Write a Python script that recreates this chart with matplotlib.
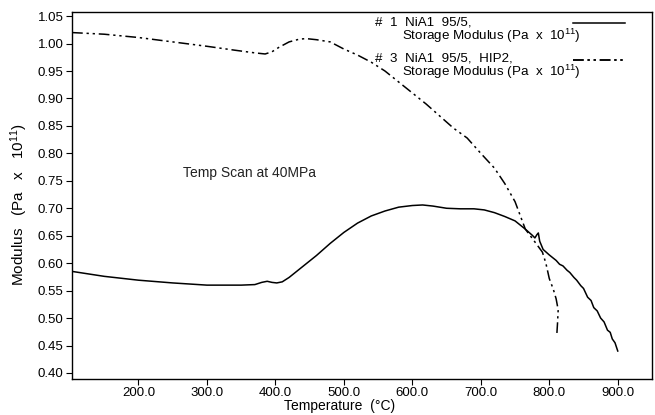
import matplotlib
matplotlib.use('Agg')
import matplotlib.pyplot as plt

# Helvetica-like text, superscripts in the same font
plt.rcParams['font.family'] = ['Liberation Sans', 'DejaVu Sans']
plt.rcParams['mathtext.default'] = 'regular'

# sample #1: NiA1 95/5, storage modulus (solid line)
temp_1 = [103, 150, 200, 250, 300, 350, 370, 380, 388, 395, 402, 410, 420, 440, 460,
          480, 500, 520, 540, 560, 580, 600, 615, 630, 650, 670, 690, 705, 720, 735,
          750, 765, 775, 779, 782, 784, 786, 791, 800, 806, 810, 815, 820, 826, 830,
          836, 840, 846, 850, 856, 861, 865, 870, 875, 880, 885, 889, 892, 896, 900]
mod_1 = [0.585, 0.576, 0.569, 0.564, 0.560, 0.560, 0.561, 0.565, 0.567, 0.565, 0.564,
         0.566, 0.574, 0.594, 0.614, 0.636, 0.656, 0.673, 0.686, 0.695, 0.702, 0.705,
         0.706, 0.704, 0.700, 0.699, 0.699, 0.697, 0.692, 0.685, 0.677, 0.662, 0.651,
         0.646, 0.652, 0.655, 0.640, 0.625, 0.615, 0.609, 0.605, 0.598, 0.595, 0.587,
         0.583, 0.574, 0.569, 0.559, 0.554, 0.538, 0.532, 0.519, 0.513, 0.500, 0.493,
         0.478, 0.474, 0.462, 0.455, 0.440]

# sample #3: NiA1 95/5, HIP2, storage modulus (dash-dot line)
temp_3 = [103, 150, 200, 250, 300, 340, 370, 385, 395, 405, 420, 435, 445, 460, 480,
          500, 520, 540, 560, 580, 600, 620, 640, 660, 680, 700, 720, 735, 750, 765,
          780, 790, 795, 800, 806, 810, 813, 812, 811]
mod_3 = [1.020, 1.017, 1.011, 1.003, 0.995, 0.988, 0.983, 0.981, 0.985, 0.993, 1.003,
         1.008, 1.009, 1.007, 1.003, 0.990, 0.979, 0.966, 0.950, 0.930, 0.910, 0.890,
         0.868, 0.846, 0.828, 0.800, 0.773, 0.745, 0.712, 0.662, 0.637, 0.620, 0.600,
         0.572, 0.552, 0.535, 0.515, 0.490, 0.470]

# legend text, two lines per sample
name_1 = '#  1  NiA1  95/5,'
name_3 = '#  3  NiA1  95/5,  HIP2,'
quantity = 'Storage Modulus (Pa  x  10$^{11}$)'

x_ticks = [200, 300, 400, 500, 600, 700, 800, 900]
y_ticks = [0.40, 0.45, 0.50, 0.55, 0.60, 0.65, 0.70, 0.75, 0.80, 0.85, 0.90, 0.95, 1.00, 1.05]

fig, ax = plt.subplots(figsize=(6.55, 4.15), dpi=100)
fig.subplots_adjust(left=0.110, right=0.9954, bottom=0.0867, top=0.9718)

line_1, = ax.plot(temp_1, mod_1, color='black', lw=1.1)
line_3, = ax.plot(temp_3, mod_3, color='black', lw=1.1,
                  dashes=(7, 2.5, 1.5, 2.5, 1.5, 2.5))

ax.set_xlim(103, 950)
ax.set_ylim(0.389, 1.058)
ax.set_xticks(x_ticks)
ax.set_xticklabels([f'{t:.1f}' for t in x_ticks])
ax.set_yticks(y_ticks)
ax.set_yticklabels([f'{v:.2f}' for v in y_ticks])
ax.tick_params(direction='out', length=4, width=0.8, labelsize=9.5, pad=2)
for sp in ax.spines.values():
    sp.set_linewidth(1.0)

ax.set_xlabel('Temperature  (°C)', fontsize=10)
ax.xaxis.set_label_coords(0.462, -0.055)
ax.set_ylabel('Modulus   (Pa   x   10$^{11}$)', fontsize=11)
ax.yaxis.set_label_coords(-0.072, 0.474)

ax.text(0.191, 0.561, 'Temp Scan at 40MPa', transform=ax.transAxes,
        fontsize=10, va='center', ha='left', color='#222222')

# legend labels on the left, line samples to the right of them
for name, y in [(name_1, 0.962), (name_3, 0.864)]:
    ax.text(0.522, y, name, transform=ax.transAxes, fontsize=9.6, va='baseline')
    ax.text(0.569, y - 0.040, quantity, transform=ax.transAxes, fontsize=9.6,
            va='baseline')

for handle, y in [(line_1, 0.967), (line_3, 0.866)]:
    leg = ax.legend([handle], [''], loc='center left', bbox_to_anchor=(0.864, y),
                    frameon=False, borderpad=0, borderaxespad=0, handlelength=3.8,
                    handletextpad=0, fontsize=9.8)
    ax.add_artist(leg)

plt.savefig('out.png', dpi=100)
